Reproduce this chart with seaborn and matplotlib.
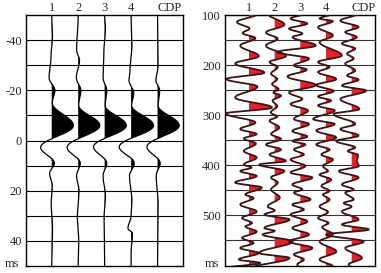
import numpy as np
import matplotlib
matplotlib.use("Agg")
import matplotlib.pyplot as plt
import seaborn as sns

# ------------------------------------------------------------------------------
# 1. DATA (turning points of each wiggle trace: time in ms, amplitude in trace spacings)
# ------------------------------------------------------------------------------
trace_labels = ["1", "2", "3", "4", "CDP"]

# left panel: single wavelet, -50..50 ms
left_t1 = [(-50, 0), (-42, 0.03), (-33, -0.03), (-25, -0.1), (-20, 0.12), (-15, 0.02), (-6, 0.82),
           (2.7, -0.42), (9, 0.1), (13, -0.08), (18, 0.02), (25, -0.02), (35, 0.03), (50, 0)]
left_t2 = [(-50, 0), (-36, -0.06), (-32, 0.05), (-25, -0.07), (-20, 0.1), (-14, 0.02), (-6, 0.82),
           (2.7, -0.42), (9, 0.08), (14, -0.06), (20, 0.03), (30, -0.03), (40, 0.02), (50, 0)]
left_t3 = [(-50, 0), (-45, 0.03), (-35, -0.03), (-25, -0.06), (-20, 0.08), (-14, 0.02), (-6, 0.82),
           (2.5, -0.42), (9, 0.08), (14, -0.06), (22, 0.03), (30, -0.02), (50, 0)]
left_t4 = [(-50, 0), (-38, 0.03), (-28, -0.04), (-24, -0.08), (-19, 0.1), (-14, 0.02), (-6, 0.85),
           (2.5, -0.45), (9, 0.12), (14, -0.06), (24, 0.03), (30, 0.0), (35, -0.12), (37, 0.05), (45, 0), (50, 0)]
left_t5 = [(-50, 0), (-30, 0.02), (-24, -0.06), (-20, 0.08), (-14, 0.02), (-6, 0.82),
           (2.5, -0.4), (9, 0.1), (14, -0.05), (25, 0.02), (50, 0)]

# right panel: field traces, 100..600 ms
right_t1 = [(98, 0.31), (114, -0.47), (127, 0.02), (136, -0.25), (146, 0.25), (161, -0.34), (182, 0.38),
            (197, -0.54), (215, 0.6), (228, -0.88), (243, 0.33), (265, -0.54), (285, 0.9), (297, -0.9),
            (315, 0.25), (328, -0.34), (338, 0.3), (347, -0.2), (357, 0.27), (372, -0.2), (385, 0.3),
            (399, -0.2), (405, 0.1), (412, -0.34), (422, 0.3), (435, -0.54), (445, 0.5), (459, -0.14),
            (466, 0.18), (479, -0.34), (493, 0.3), (506, -0.27), (516, 0.12), (523, -0.14), (533, 0.3),
            (546, -0.27), (556, 0.18), (566, -0.34), (576, 0.38), (589, -0.4), (596, 0.44), (606, -0.9)]
right_t2 = [(98, -0.25), (119, 0.38), (135, -0.34), (147, 0.12), (161, -0.34), (182, 0.44), (194, -0.2),
            (204, 0.12), (217, -0.14), (228, 0.1), (238, -0.1), (248, 0.15), (255, -0.05), (261, 0.25),
            (271, -0.08), (282, 0.1), (295, -0.15), (303, 0.1), (311, -0.2), (325, 0.18), (338, -0.14),
            (348, 0.25), (359, -0.34), (369, 0.25), (379, -0.2), (392, 0.44), (399, -0.6), (412, 0.38),
            (425, -0.14), (435, 0.12), (449, -0.14), (465, 0.2), (483, -0.27), (491, 0.0), (499, -0.4),
            (509, 0.58), (526, -0.4), (532, 0.0), (539, -0.47), (553, 0.7), (576, -0.6), (586, 0.58),
            (606, -0.86)]
right_t3 = [(97, 0.15), (107, -0.38), (117, 0.27), (127, -0.44), (137, 0.08), (144, -0.3), (161, 0.6),
            (174, -0.9), (187, 0.34), (201, -0.25), (209, 0.25), (223, -0.5), (240, 0.6), (255, -0.44),
            (268, 0.08), (278, -0.38), (291, 0.3), (308, -0.25), (318, 0.34), (332, -0.31), (343, 0.27),
            (352, -0.3), (359, 0.2), (369, -0.25), (379, 0.14), (389, -0.38), (402, 0.2), (415, -0.38),
            (425, 0.47), (439, -0.31), (449, 0.08), (455, -0.25), (469, 0.4), (479, -0.31), (489, 0.14),
            (499, -0.38), (513, 0.27), (526, -0.31), (539, 0.34), (553, -0.44), (566, 0.47), (579, -0.25),
            (589, 0.14), (599, -0.12), (606, 0.0)]
right_t4 = [(98, 0.2), (107, -0.25), (112, 0.27), (124, -0.31), (141, 0.27), (154, -0.25), (181, 0.62),
            (194, -0.31), (204, 0.14), (214, -0.31), (228, 0.4), (240, -0.38), (252, 0.3), (263, -0.31),
            (271, 0.2), (281, -0.31), (291, 0.34), (308, -0.5), (318, 0.34), (331, -0.38), (345, 0.4),
            (359, -0.38), (369, 0.14), (379, -0.18), (389, 0.27), (402, -0.12), (412, 0.08), (419, -0.25),
            (429, 0.2), (442, -0.18), (452, 0.14), (459, -0.12), (469, 0.14), (483, -0.25), (494, 0.08),
            (506, -0.31), (516, 0.1), (524, -0.15), (539, 0.27), (553, -0.25), (573, 0.4), (589, -0.25),
            (603, 0.27)]
right_cdp = [(98, 0.2), (111, -0.44), (124, 0.27), (134, -0.25), (144, 0.2), (157, -0.38), (167, 0.14),
             (177, -0.18), (187, 0.08), (197, -0.25), (211, 0.14), (221, -0.18), (229, 0.27), (241, -0.38),
             (251, 0.56), (268, -0.44), (288, 0.3), (298, -0.7), (318, 0.14), (328, -0.44), (341, 0.27),
             (352, -0.6), (365, 0.14), (372, -0.15), (380, 0.25), (392, 0.2), (402, 0.28), (412, -0.5),
             (425, 0.27), (439, -0.38), (449, 0.08), (455, -0.25), (469, 0.08), (476, -0.31), (483, 0.0),
             (493, -0.38), (509, 0.27), (519, -0.38), (529, 0.67), (539, -1.0), (553, 0.47), (566, -0.25),
             (586, 0.4), (599, -0.12), (606, 0.0)]

left_traces = [left_t1, left_t2, left_t3, left_t4, left_t5]
right_traces = [right_t1, right_t2, right_t3, right_t4, right_cdp]


# smooth wiggle drawn through the turning points (half-cosine between neighbours)
def wiggle(points, n=14):
    tt, aa = [], []
    for (t0, a0), (t1, a1) in zip(points[:-1], points[1:]):
        s = np.linspace(0, 1, n, endpoint=False)
        tt.extend(t0 + (t1 - t0) * s)
        aa.extend(a0 + (a1 - a0) * (1 - np.cos(np.pi * s)) / 2)
    tt.append(points[-1][0])
    aa.append(points[-1][1])
    return np.array(tt), np.array(aa)


# ------------------------------------------------------------------------------
# 2. FIGURE
# ------------------------------------------------------------------------------
sns.set_style("white")
plt.rcParams["font.family"] = ["Liberation Serif", "DejaVu Serif"]
plt.rcParams["axes.unicode_minus"] = False

fig = plt.figure(figsize=(3.81, 2.73), dpi=100)
ax_l = fig.add_axes([0.0682, 0.0256, 0.412, 0.919])
ax_r = fig.add_axes([0.5906, 0.0256, 0.3937, 0.919])


def draw_panel(ax, traces, line_col, fill_col, lw):
    for i, pts in enumerate(traces):
        pos = i + 1
        t, a = wiggle(pts)
        ax.fill_betweenx(t, pos, pos + a, where=a > 0, interpolate=True,
                         color=fill_col, lw=0, zorder=3)
        sns.lineplot(x=pos + a, y=t, sort=False, estimator=None, ax=ax,
                     color=line_col, lw=lw, zorder=4)


draw_panel(ax_l, left_traces, "black", "black", 0.9)
draw_panel(ax_r, right_traces, "#3a1416", "#e8202a", 1.3)

# left axis
ax_l.set_xlim(0.027, 5.96)
ax_l.set_ylim(50, -50)
ax_l.set_yticks([-40, -20, 0, 20, 40])
ax_l.set_yticks(np.arange(-40, 50, 10), minor=True)
ax_l.grid(axis="y", which="both", color="black", lw=0.8)

# right axis
ax_r.set_xlim(0.066, 5.91)
ax_r.set_ylim(602, 100)
ax_r.set_yticks([100, 200, 300, 400, 500])
ax_r.set_yticks(np.arange(150, 600, 50), minor=True)
ax_r.grid(axis="y", which="both", color="#333333", lw=0.8)

for ax in (ax_l, ax_r):
    ax.set_axisbelow(True)
    ax.xaxis.tick_top()
    ax.set_xticks(range(1, 6))
    ax.set_xticklabels(trace_labels)
    ax.get_xticklabels()[-1].set_ha("left")
    ax.tick_params(axis="x", length=0, pad=1, labelsize=9)
    ax.tick_params(axis="y", which="both", length=0, pad=3, labelsize=9)
    ax.set_xlabel("")
    ax.set_ylabel("")
    for sp in ax.spines.values():
        sp.set_color("black")
        sp.set_linewidth(1.0)
    ax.text(-0.04, -0.004, "ms", transform=ax.transAxes, ha="right", va="baseline", fontsize=9)

fig.savefig("out.png", dpi=100)
